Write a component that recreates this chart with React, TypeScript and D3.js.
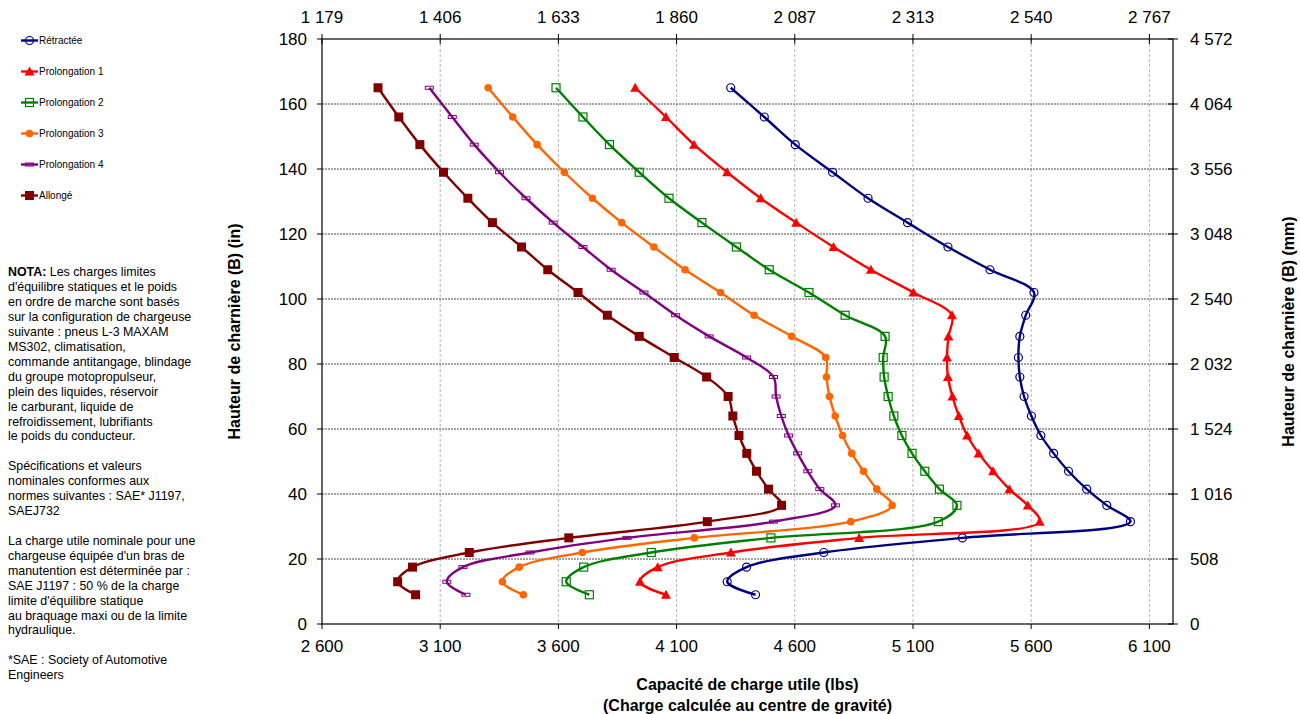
import * as d3 from "d3";

// hinge pin height levels (in), top to bottom
const hingeHeights = [
  165, 156, 147.5, 139, 131, 123.5, 116, 109, 102, 95, 88.5, 82, 76, 70, 64, 58,
  52.5, 47, 41.5, 36.5, 31.5, 26.5, 22, 17.5, 13, 9,
];

// rated load capacity (lbs) for each boom position
const retractee = [
  4329, 4471, 4602, 4760, 4910, 5077, 5248, 5426, 5612, 5577, 5552, 5546, 5552,
  5570, 5601, 5641, 5695, 5758, 5835, 5920, 6020, 5309, 4723, 4396, 4314, 4434,
];
const prolongation1 = [
  3925, 4055, 4174, 4314, 4456, 4606, 4764, 4922, 5102, 5265, 5250, 5244, 5248,
  5267, 5294, 5329, 5378, 5439, 5508, 5586, 5636, 4872, 4330, 4020, 3945, 4055,
];
const prolongation2 = [
  3590, 3704, 3816, 3942, 4068, 4207, 4353, 4492, 4660, 4813, 4982, 4974, 4978,
  4995, 5019, 5053, 5096, 5150, 5212, 5286, 5207, 4499, 3993, 3707, 3633, 3731,
];
const prolongation3 = [
  3303, 3407, 3510, 3625, 3744, 3868, 4004, 4136, 4286, 4428, 4587, 4731, 4734,
  4747, 4771, 4802, 4841, 4891, 4947, 5012, 4837, 4175, 3701, 3434, 3363, 3452,
];
const prolongation4 = [
  3054, 3151, 3244, 3351, 3463, 3578, 3704, 3823, 3962, 4096, 4238, 4396, 4510,
  4521, 4543, 4574, 4612, 4655, 4706, 4772, 4510, 3890, 3480, 3196, 3128, 3209,
];
const allonge = [
  2837, 2925, 3014, 3114, 3217, 3321, 3444, 3555, 3683, 3807, 3942, 4090, 4227,
  4318, 4338, 4364, 4397, 4438, 4489, 4544, 4230, 3644, 3223, 2983, 2920, 2996,
];

const seriesNames = [
  "Rétractée",
  "Prolongation 1",
  "Prolongation 2",
  "Prolongation 3",
  "Prolongation 4",
  "Allongé",
];
const seriesValues = [
  retractee,
  prolongation1,
  prolongation2,
  prolongation3,
  prolongation4,
  allonge,
];

// axis ticks
const lbsTicks = [2600, 3100, 3600, 4100, 4600, 5100, 5600, 6100];
const kgLabels = ["1 179", "1 406", "1 633", "1 860", "2 087", "2 313", "2 540", "2 767"];
const inTicks = [0, 20, 40, 60, 80, 100, 120, 140, 160, 180];
const mmLabels = ["0", "508", "1 016", "1 524", "2 032", "2 540", "3 048", "3 556", "4 064", "4 572"];

const noteLines = [
  "NOTA:| Les charges limites",
  "d'équilibre statiques et le poids",
  "en ordre de marche sont basés",
  "sur la configuration de chargeuse",
  "suivante : pneus L-3 MAXAM",
  "MS302, climatisation,",
  "commande antitangage, blindage",
  "du groupe motopropulseur,",
  "plein des liquides, réservoir",
  "le carburant, liquide de",
  "refroidissement, lubrifiants",
  "le poids du conducteur.",
  "",
  "Spécifications et valeurs",
  "nominales conformes aux",
  "normes suivantes : SAE* J1197,",
  "SAEJ732",
  "",
  "La charge utile nominale pour une",
  "chargeuse équipée d'un bras de",
  "manutention est déterminée par :",
  "SAE J1197 : 50 % de la charge",
  "limite d'équilibre statique",
  "au braquage maxi ou de la limite",
  "hydraulique.",
  "",
  "*SAE : Society of Automotive",
  "Engineers",
];

const styles = [
  { color: "#000080", marker: "circleOpen" },
  { color: "#ff0000", marker: "triangle" },
  { color: "#008000", marker: "squareOpen" },
  { color: "#ff6600", marker: "circle" },
  { color: "#800080", marker: "dash" },
  { color: "#800000", marker: "square" },
];

const W = 1300;
const H = 714;
const font = "'Liberation Sans', Arial, sans-serif";

const x = d3.scaleLinear().domain([2600, 6200]).range([322, 1173]);
const y = d3.scaleLinear().domain([0, 180]).range([624, 39]);

const fmtLbs = d3.formatLocale({
  decimal: ",",
  thousands: " ",
  grouping: [3],
  currency: ["", ""],
}).format(",");

function Marker({ type, cx, cy, color }: { type: string; cx: number; cy: number; color: string }) {
  switch (type) {
    case "circleOpen":
      return <circle cx={cx} cy={cy} r={4} fill="none" stroke={color} strokeWidth={1.2} />;
    case "circle":
      return <circle cx={cx} cy={cy} r={3.8} fill={color} />;
    case "triangle":
      return (
        <path
          d={`M${cx},${cy - 5}L${cx + 5},${cy + 4}L${cx - 5},${cy + 4}Z`}
          fill={color}
        />
      );
    case "squareOpen":
      return (
        <rect x={cx - 4} y={cy - 4} width={8} height={8} fill="none" stroke={color} strokeWidth={1.2} />
      );
    case "square":
      return <rect x={cx - 4.5} y={cy - 4.5} width={9} height={9} fill={color} />;
    case "dash":
      return (
        <rect x={cx - 4} y={cy - 1.5} width={8} height={3} fill="none" stroke={color} strokeWidth={1} />
      );
    default:
      return null;
  }
}

export default function App() {
  const line = d3
    .line<[number, number]>()
    .x((d) => x(d[0]))
    .y((d) => y(d[1]))
    .curve(d3.curveCatmullRom.alpha(0.5));

  const x0 = x.range()[0];
  const x1 = x.range()[1];
  const y0 = y.range()[1];
  const y1 = y.range()[0];

  return (
    <svg
      width={W}
      height={H}
      style={{ position: "absolute", left: 0, top: 0, background: "#fff" }}
      fontFamily={font}
    >
      {/* gridlines */}
      {lbsTicks.slice(1).map((t) => (
        <line
          key={"vg" + t}
          x1={x(t)}
          x2={x(t)}
          y1={y0}
          y2={y1}
          stroke="#b4b4b4"
          strokeWidth={1}
          strokeDasharray="3,2"
        />
      ))}
      {inTicks.slice(1, -1).map((t) => (
        <line
          key={"hg" + t}
          x1={x0}
          x2={x1}
          y1={y(t)}
          y2={y(t)}
          stroke="#4a4a4a"
          strokeWidth={1}
          strokeDasharray="2,1"
        />
      ))}

      {/* frame */}
      <rect x={x0} y={y0} width={x1 - x0} height={y1 - y0} fill="none" stroke="#000" strokeWidth={1.2} />

      {/* left axis */}
      {inTicks.map((t) => (
        <g key={"l" + t}>
          <line x1={x0 - 5} x2={x0} y1={y(t)} y2={y(t)} stroke="#000" />
          <text x={x0 - 15} y={y(t)} dy="0.35em" textAnchor="end" fontSize={17}>
            {t}
          </text>
        </g>
      ))}
      {/* right axis */}
      {inTicks.map((t, i) => (
        <g key={"r" + t}>
          <line x1={x1 - 5} x2={x1 + 5} y1={y(t)} y2={y(t)} stroke="#000" />
          <text x={x1 + 17} y={y(t)} dy="0.35em" textAnchor="start" fontSize={17}>
            {mmLabels[i]}
          </text>
        </g>
      ))}
      {/* bottom axis */}
      {lbsTicks.map((t) => (
        <g key={"b" + t}>
          <line x1={x(t)} x2={x(t)} y1={y1} y2={y1 + 5} stroke="#000" />
          <text x={x(t)} y={y1 + 28} textAnchor="middle" fontSize={17}>
            {fmtLbs(t)}
          </text>
        </g>
      ))}
      {/* top axis */}
      {lbsTicks.map((t, i) => (
        <g key={"t" + t}>
          <line x1={x(t)} x2={x(t)} y1={y0 - 5} y2={y0 + 5} stroke="#000" />
          <text x={x(t)} y={y0 - 16} textAnchor="middle" fontSize={17}>
            {kgLabels[i]}
          </text>
        </g>
      ))}

      {/* axis titles */}
      <text x={(x0 + x1) / 2} y={690} textAnchor="middle" fontSize={16} fontWeight="bold">
        Capacité de charge utile (lbs)
      </text>
      <text x={(x0 + x1) / 2} y={711} textAnchor="middle" fontSize={16} fontWeight="bold">
        (Charge calculée au centre de gravité)
      </text>
      <text
        transform={`translate(240,${(y0 + y1) / 2}) rotate(-90)`}
        textAnchor="middle"
        fontSize={16}
        fontWeight="bold"
      >
        Hauteur de charnière (B) (in)
      </text>
      <text
        transform={`translate(1294,${(y0 + y1) / 2}) rotate(-90)`}
        textAnchor="middle"
        fontSize={16}
        fontWeight="bold"
      >
        Hauteur de charnière (B) (mm)
      </text>

      {/* series */}
      {seriesValues.map((vals, si) => {
        const pts: [number, number][] = vals.map((v, i) => [v, hingeHeights[i]]);
        const st = styles[si];
        return (
          <g key={"s" + si}>
            <path d={line(pts) || ""} fill="none" stroke={st.color} strokeWidth={2.4} />
            {pts.map((p, i) => (
              <Marker key={i} type={st.marker} cx={x(p[0])} cy={y(p[1])} color={st.color} />
            ))}
          </g>
        );
      })}

      {/* legend */}
      {seriesNames.map((name, i) => {
        const ly = 40.5 + i * 31;
        const st = styles[i];
        return (
          <g key={"lg" + i}>
            <line x1={21} x2={38} y1={ly} y2={ly} stroke={st.color} strokeWidth={2.4} />
            <Marker type={st.marker} cx={29.5} cy={ly} color={st.color} />
            <text x={39} y={ly} dy="0.35em" fontSize={10}>
              {name}
            </text>
          </g>
        );
      })}

      {/* note */}
      {noteLines.map((ln, i) => {
        const parts = ln.split("|");
        return (
          <text key={"n" + i} x={8} y={272 + i * 14.92} dy="0.35em" fontSize={12.4}>
            {parts.length > 1 ? (
              <>
                <tspan fontWeight="bold">{parts[0]}</tspan>
                <tspan>{parts[1]}</tspan>
              </>
            ) : (
              ln
            )}
          </text>
        );
      })}
    </svg>
  );
}
